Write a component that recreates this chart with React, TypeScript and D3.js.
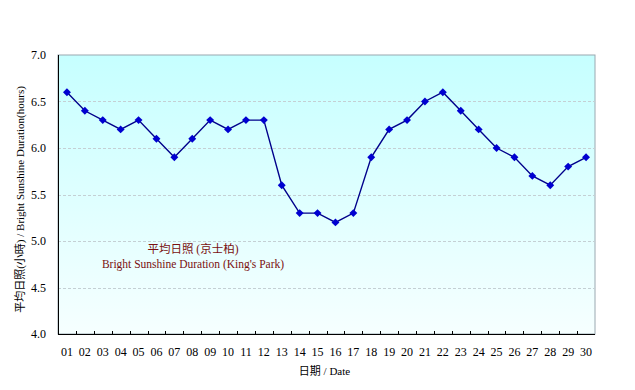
import { useEffect, useRef } from 'react';
import * as d3 from 'd3';

const days = [
  '01', '02', '03', '04', '05', '06', '07', '08', '09', '10',
  '11', '12', '13', '14', '15', '16', '17', '18', '19', '20',
  '21', '22', '23', '24', '25', '26', '27', '28', '29', '30',
];
const sunshine = [
  6.6, 6.4, 6.3, 6.2, 6.3, 6.1, 5.9, 6.1, 6.3, 6.2,
  6.3, 6.3, 5.6, 5.3, 5.3, 5.2, 5.3, 5.9, 6.2, 6.3,
  6.5, 6.6, 6.4, 6.2, 6.0, 5.9, 5.7, 5.6, 5.8, 5.9,
];
const yTicks = [4.0, 4.5, 5.0, 5.5, 6.0, 6.5, 7.0];

const WIDTH = 635;
const HEIGHT = 390;
const M = { top: 55, right: 40, bottom: 56, left: 58 };
const SERIF = '"Liberation Serif", "Times New Roman", serif';
const CJK = '"Liberation Serif", "Noto Sans CJK TC", serif';

export default function App() {
  const svgRef = useRef<SVGSVGElement>(null);

  useEffect(() => {
    if (!svgRef.current) return;
    const svg = d3.select(svgRef.current);
    svg.selectAll('*').remove();

    const w = WIDTH - M.left - M.right;
    const h = HEIGHT - M.top - M.bottom;

    const x = d3.scaleBand<string>().domain(days).range([0, w]);
    const y = d3.scaleLinear().domain([4, 7]).range([h, 0]);

    const defs = svg.append('defs');
    const grad = defs
      .append('linearGradient')
      .attr('id', 'bg')
      .attr('x1', 0)
      .attr('y1', 0)
      .attr('x2', 0)
      .attr('y2', 1);
    grad.append('stop').attr('offset', '0%').attr('stop-color', '#c6ffff');
    grad.append('stop').attr('offset', '100%').attr('stop-color', '#f6ffff');

    const g = svg.append('g').attr('transform', `translate(${M.left},${M.top})`);

    g.append('rect')
      .attr('width', w)
      .attr('height', h)
      .attr('fill', 'url(#bg)')
      .attr('stroke', '#9aa8b0')
      .attr('stroke-width', 1);

    // gridlines
    g.selectAll('.grid')
      .data(yTicks.filter((t) => t > 4 && t < 7))
      .join('line')
      .attr('x1', 0)
      .attr('x2', w)
      .attr('y1', (d) => Math.round(y(d)) + 0.5)
      .attr('y2', (d) => Math.round(y(d)) + 0.5)
      .attr('stroke', '#c4d0d4')
      .attr('stroke-dasharray', '3,2');

    // axes lines
    g.append('line').attr('x1', 0.5).attr('x2', 0.5).attr('y1', 0).attr('y2', h).attr('stroke', '#000');
    g.append('line').attr('x1', 0).attr('x2', w).attr('y1', h + 0.5).attr('y2', h + 0.5).attr('stroke', '#000');

    // x ticks at category boundaries, pointing inward
    g.selectAll('.xtick')
      .data(days.slice(1))
      .join('line')
      .attr('x1', (d) => Math.round(x(d)!) + 0.5)
      .attr('x2', (d) => Math.round(x(d)!) + 0.5)
      .attr('y1', h)
      .attr('y2', h - 3)
      .attr('stroke', '#000');

    g.selectAll('.xlabel')
      .data(days)
      .join('text')
      .attr('x', (d) => x(d)! + x.bandwidth() / 2)
      .attr('y', h + 22)
      .attr('text-anchor', 'middle')
      .attr('font-family', SERIF)
      .attr('font-size', 12)
      .attr('fill', '#000')
      .text((d) => d);

    g.selectAll('.ylabel')
      .data(yTicks)
      .join('text')
      .attr('x', -12)
      .attr('y', (d) => y(d) + 4)
      .attr('text-anchor', 'end')
      .attr('font-family', SERIF)
      .attr('font-size', 12)
      .attr('fill', '#000')
      .text((d) => d.toFixed(1));

    // line + markers
    const line = d3
      .line<number>()
      .x((_, i) => x(days[i])! + x.bandwidth() / 2)
      .y((d) => y(d));

    g.append('path')
      .datum(sunshine)
      .attr('d', line)
      .attr('fill', 'none')
      .attr('stroke', '#00008b')
      .attr('stroke-width', 1.4);

    const diamond = d3.symbol().type(d3.symbolDiamond2).size(40);
    g.selectAll('.pt')
      .data(sunshine)
      .join('path')
      .attr('transform', (d, i) => `translate(${x(days[i])! + x.bandwidth() / 2},${y(d)})`)
      .attr('d', diamond)
      .attr('fill', '#0000d0');

    // series label inside plot
    g.append('text')
      .attr('x', 135)
      .attr('y', 198)
      .attr('text-anchor', 'middle')
      .attr('font-family', CJK)
      .attr('font-size', 11.5)
      .attr('fill', '#7a1010')
      .text('平均日照 (京士柏)');
    g.append('text')
      .attr('x', 135)
      .attr('y', 213)
      .attr('text-anchor', 'middle')
      .attr('font-family', SERIF)
      .attr('font-size', 11.5)
      .attr('fill', '#7a1010')
      .text("Bright Sunshine Duration (King's Park)");

    // axis titles
    svg.append('text')
      .attr('x', M.left + w / 2 - 2)
      .attr('y', 375)
      .attr('text-anchor', 'middle')
      .attr('font-family', CJK)
      .attr('font-size', 11)
      .attr('fill', '#000')
      .text('日期 / Date');

    svg.append('text')
      .attr('transform', `translate(24,${M.top + h / 2 + 5}) rotate(-90)`)
      .attr('text-anchor', 'middle')
      .attr('font-family', CJK)
      .attr('font-size', 11)
      .attr('fill', '#000')
      .text('平均日照(小時) / Bright Sunshine Duration(hours)');
  }, []);

  return (
    <svg
      ref={svgRef}
      width={WIDTH}
      height={HEIGHT}
      style={{ position: 'absolute', left: 0, top: 0, background: '#fff' }}
    />
  );
}
